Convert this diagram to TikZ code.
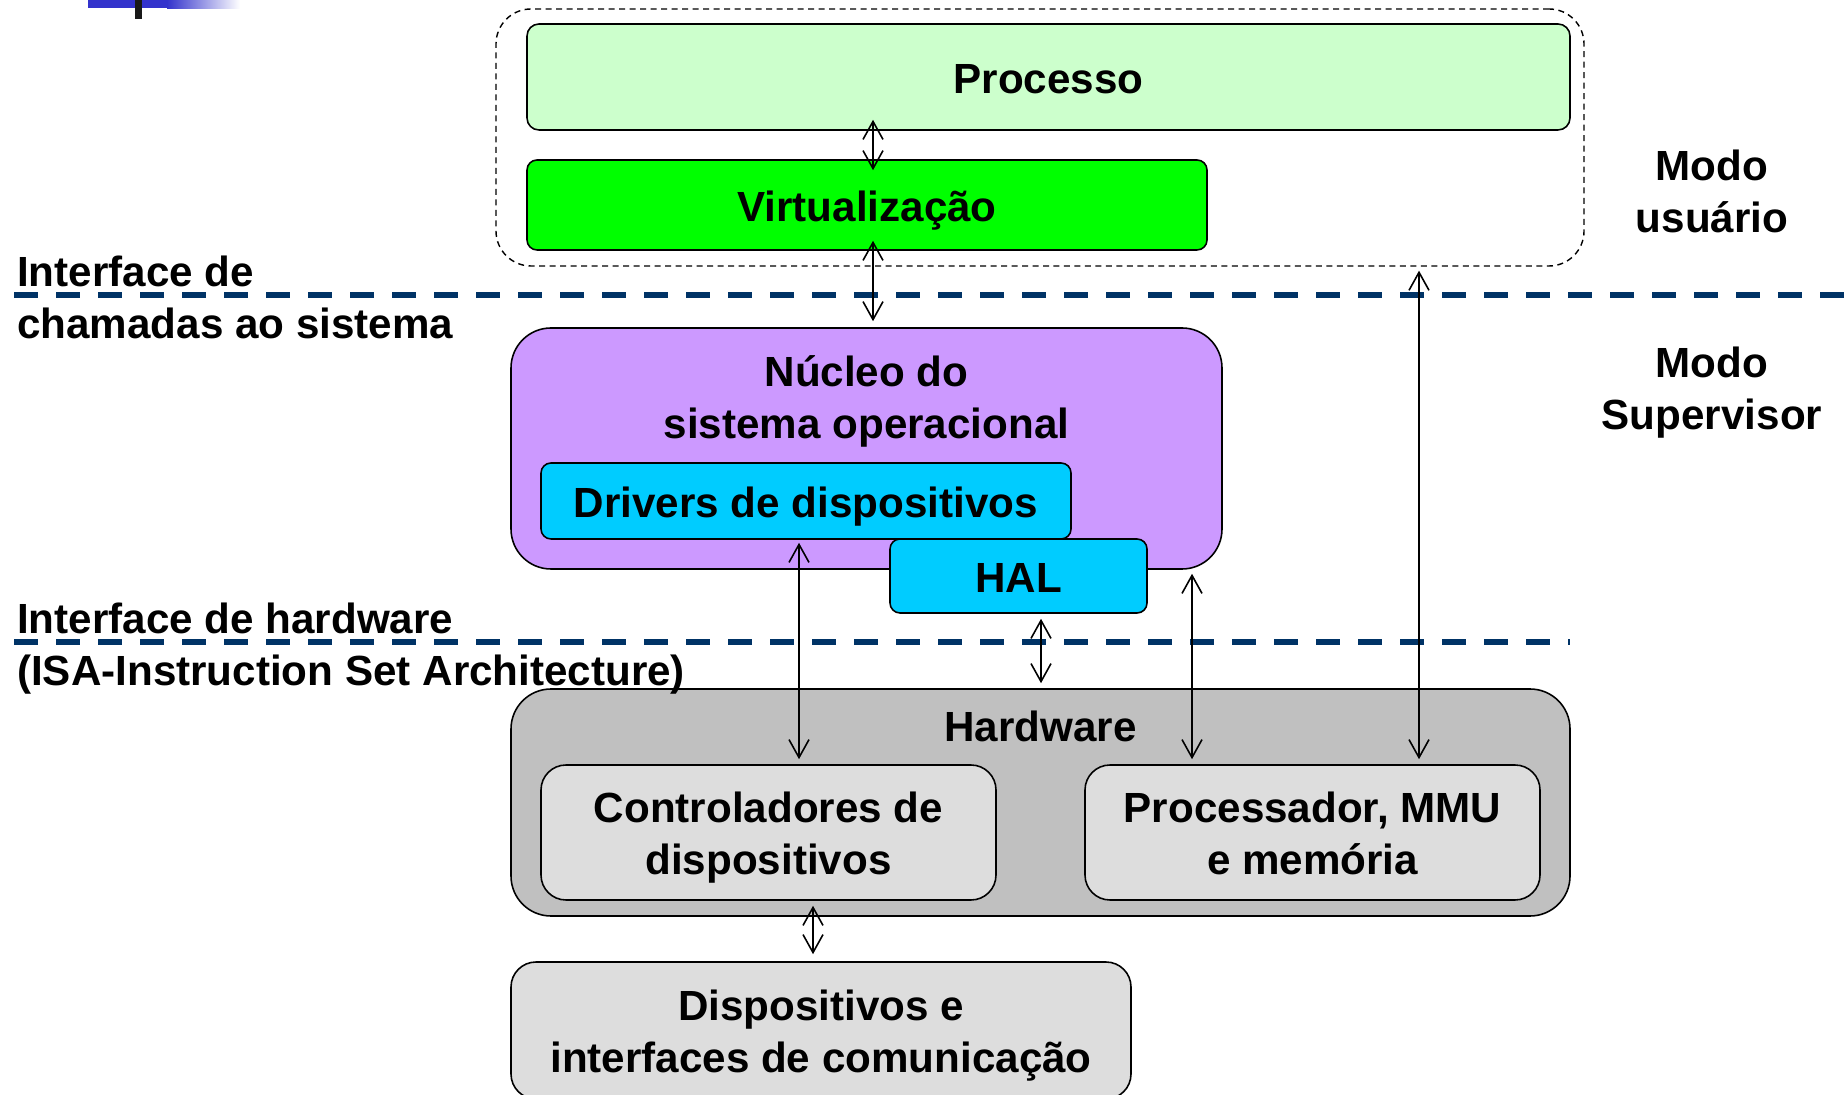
\documentclass[tikz,border=0pt]{standalone}
\usepackage{fontspec}
\setmainfont{Liberation Sans}
\usetikzlibrary{arrows.meta, positioning, calc}
\definecolor{procgreen}{RGB}{204,255,204}
\definecolor{virtgreen}{RGB}{0,255,0}
\definecolor{kernpurple}{RGB}{204,153,255}
\definecolor{drvcyan}{RGB}{0,204,255}
\definecolor{hwgray}{RGB}{192,192,192}
\definecolor{devgray}{RGB}{221,221,221}
\definecolor{ifblue}{RGB}{0,51,102}
\definecolor{slideblue}{RGB}{51,51,204}

\begin{document}
\begin{tikzpicture}[
    font=\fontsize{12}{14.8}\selectfont\bfseries,
    box/.style={draw, line width=0.45pt, inner sep=0pt, align=center},
    oneline/.style={box, text height=0.44cm, text depth=0.1cm},
    twoline/.style={box, text height=0.94cm, text depth=0.1cm},
    lbl/.style={inner sep=0pt},
    dblarrow/.style={{Straight Barb[length=1.8mm,width=2mm]}-{Straight Barb[length=1.8mm,width=2mm]}, line width=0.45pt},
    ifline/.style={draw=ifblue, line width=1.7pt, dash pattern=on 0.24cm off 0.18cm}
]
    \clip (0,0) rectangle (18.48,10.94);

    % slide header remains
    \fill[slideblue] (0.88,10.94) rectangle (1.67,10.86);
    \shade[left color=slideblue, right color=white] (1.67,10.94) rectangle (2.40,10.85);
    \fill[black!90] (1.35,10.94) rectangle (1.42,10.75);

    % User mode
    \node[box, dash pattern=on 0.06cm off 0.045cm, line width=0.4pt, rounded corners=0.35cm,
          minimum width=10.88cm, minimum height=2.57cm] (umode) at (10.40,9.565) {};
    \node[oneline, fill=procgreen, rounded corners=0.12cm, minimum width=10.43cm, minimum height=1.06cm] (proc) at (10.485,10.17) {Processo};
    \node[oneline, fill=virtgreen, rounded corners=0.1cm, minimum width=6.80cm, minimum height=0.90cm] (virt) at (8.67,8.89) {Virtualização};

    % Kernel
    \node[box, fill=kernpurple, rounded corners=0.4cm, minimum width=7.11cm, minimum height=2.41cm] (kern) at (8.665,6.455) {};
    \node[lbl, anchor=base, align=center] (kerntxt) at ($(kern.north)+(0,-1.11)$) {Núcleo do\\sistema operacional};
    \node[oneline, fill=drvcyan, rounded corners=0.1cm, minimum width=5.30cm, minimum height=0.76cm] (drv) at (8.06,5.93) {Drivers de dispositivos};
    \node[oneline, fill=drvcyan, rounded corners=0.1cm, minimum width=2.57cm, minimum height=0.74cm] (hal) at (10.185,5.18) {HAL};

    % Hardware
    \node[box, fill=hwgray, rounded corners=0.4cm, minimum width=10.59cm, minimum height=2.27cm] (hw) at (10.405,2.915) {};
    \node[lbl, anchor=base] (hwtxt) at ($(hw.north)+(0,-0.53)$) {Hardware};
    \node[twoline, fill=devgray, rounded corners=0.25cm, minimum width=4.55cm, minimum height=1.35cm] (ctrl) at (7.685,2.615) {Controladores de\\dispositivos};
    \node[twoline, fill=devgray, rounded corners=0.25cm, minimum width=4.55cm, minimum height=1.35cm] (cpu) at (13.125,2.615) {Processador, MMU\\e memória};
    \node[twoline, fill=devgray, rounded corners=0.25cm, minimum width=6.20cm, minimum height=1.37cm] (devs) at (8.21,0.635) {Dispositivos e\\interfaces de comunicação};

    % Interfaces
    \draw[ifline] (0.14,7.99) -- (18.48,7.99);
    \draw[ifline] (0.14,4.52) -- (15.70,4.52);
    \node[lbl, anchor=base west, align=left] (syscall) at (0.165,7.55) {Interface de\\chamadas ao sistema};
    \node[lbl, anchor=base west, align=left] (isa) at (0.165,4.08) {Interface de hardware\\(ISA-Instruction Set Architecture)};
    \node[lbl, anchor=base, align=center] (usrtxt) at (17.12,8.61) {Modo\\usuário};
    \node[lbl, anchor=base, align=center] (suptxt) at (17.12,6.64) {Modo\\Supervisor};

    % Arrows
    \coordinate (ax1) at (8.73,0);
    \coordinate (ax2) at (7.99,0);
    \coordinate (ax3) at (10.41,0);
    \coordinate (ax4) at (11.92,0);
    \coordinate (ax5) at (14.19,0);
    \coordinate (ax6) at (8.13,0);
    \draw[dblarrow] ($(proc.south -| ax1)+(0,0.11)$) -- ($(virt.north -| ax1)+(0,-0.11)$);
    \draw[dblarrow] ($(virt.south -| ax1)+(0,0.10)$) -- ($(kern.north -| ax1)+(0,0.06)$);
    \draw[dblarrow] ($(drv.south -| ax2)+(0,-0.03)$) -- ($(ctrl.north -| ax2)+(0,0.05)$);
    \draw[dblarrow] ($(hal.south -| ax3)+(0,-0.05)$) -- ($(hw.north -| ax3)+(0,0.05)$);
    \draw[dblarrow] ($(kern.south -| ax4)+(0,-0.04)$) -- ($(cpu.north -| ax4)+(0,0.05)$);
    \draw[dblarrow] ($(umode.south -| ax5)+(0,-0.04)$) -- ($(cpu.north -| ax5)+(0,0.05)$);
    \draw[dblarrow] ($(ctrl.south -| ax6)+(0,-0.05)$) -- ($(devs.north -| ax6)+(0,0.07)$);
\end{tikzpicture}
\end{document}
